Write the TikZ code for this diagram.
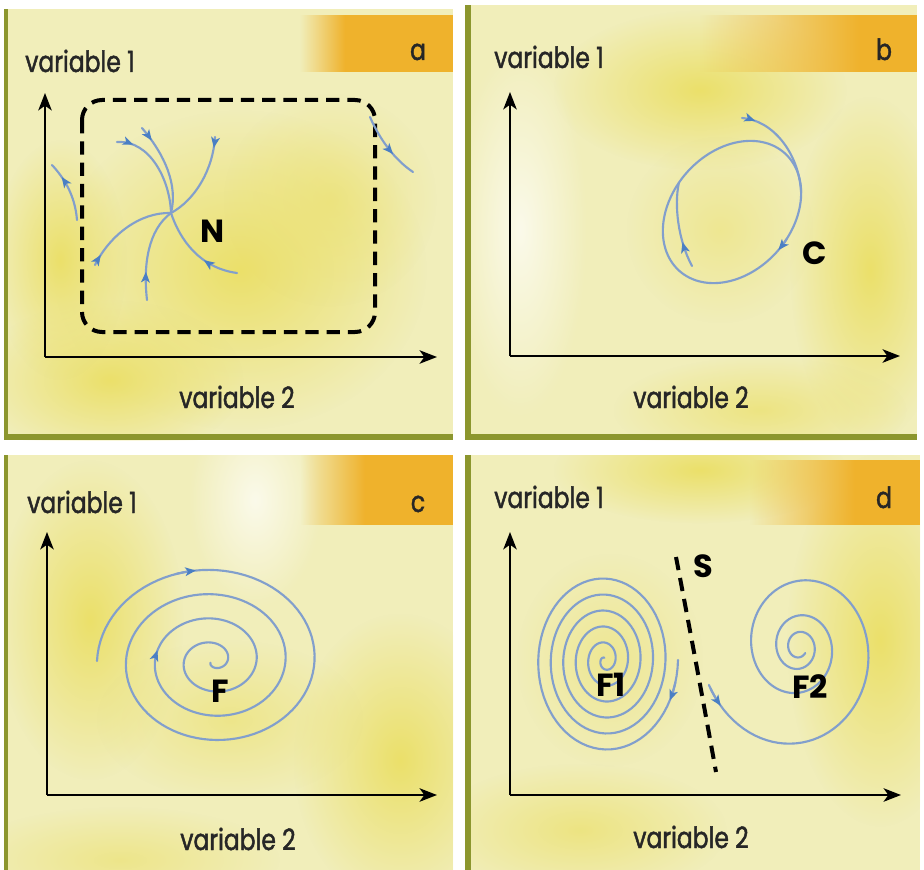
\documentclass[tikz,border=0pt]{standalone}
\usepackage{fontspec}
\setmainfont{Poppins}
\newfontfamily\varfont{Poppins}[FakeStretch=0.8, FakeBold=1.5]
\newfontfamily\labfont{Poppins}
\usetikzlibrary{arrows.meta,decorations.markings,fadings}
\definecolor{paper}{HTML}{F1EEBA}
\definecolor{yel}{HTML}{EBE06A}
\definecolor{org}{HTML}{EFB22C}
\definecolor{olive}{HTML}{8C962E}
\definecolor{trajc}{HTML}{829FCC}
\definecolor{tipc}{HTML}{4A7FC4}
\tikzfading[name=softblob, inner color=transparent!0, outer color=transparent!100]
\tikzfading[name=fadeR, left color=transparent!100, right color=transparent!0]
\begin{document}
\begin{tikzpicture}[x=0.75pt,y=-0.75pt,
  declare function={
    rF(\t)=116-0.0805556*(\t-180);
    rA(\t)=73-0.0347222*\t;
    fB(\t)=exp(-0.00206*(\t-270));
    eX(\t)=732+79*cos(\t)*0.6691-60*sin(\t)*0.7431;
    eY(\t)=212-(79*cos(\t)*0.7431+60*sin(\t)*0.6691);
  },
  traj/.style={draw=trajc, line width=1.6pt, line cap=round},
  tipped/.style={traj, -{Stealth[length=8pt,width=6.5pt,inset=2pt,color=tipc]}},
  midarrow/.style={postaction={decorate}, decoration={markings,
      mark=at position #1 with {\arrow{Stealth[length=8pt,width=6.5pt,inset=2pt,color=tipc]}}}},
  axis/.style={line width=2pt, -{Stealth[length=13pt,width=10pt,inset=3.5pt]}},
  sepline/.style={line width=3pt, dash pattern=on 10pt off 6pt},
  varlab/.style={font=\varfont\fontsize{22}{22}\selectfont, text=black!85, inner sep=0pt},
  boldlab/.style={font=\labfont\bfseries\fontsize{24}{24}\selectfont, inner sep=0pt},
  blob/.style={fill=yel, path fading=softblob},
  glow/.style={fill=white, path fading=softblob, opacity=0.7},
]
\useasboundingbox (0,0) rectangle (924,870);
\fill[white] (0,0) rectangle (924,870);

% ---------- panel backgrounds ----------
\fill[paper] (5,9) rectangle (453,440);
\fill[paper] (465,5) rectangle (917,440);
\fill[paper] (5,455) rectangle (453,870);
\fill[paper] (465,455) rectangle (920,870);

\begin{scope}
\clip (5,9) rectangle (453,440);
\fill[blob] (240,270) ellipse [x radius=140pt, y radius=120pt];
\fill[blob] (110,380) ellipse [x radius=100pt, y radius=60pt];
\fill[blob] (60,260) ellipse [x radius=50pt, y radius=90pt];
\fill[blob, opacity=0.6] (330,200) ellipse [x radius=80pt, y radius=80pt];
\fill[org, path fading=fadeR] (300,15) rectangle (345,72);
\fill[org] (345,15) rectangle (453,72);
\end{scope}

\begin{scope}
\clip (465,5) rectangle (917,440);
\fill[blob] (700,90) ellipse [x radius=110pt, y radius=60pt];
\fill[blob] (870,270) ellipse [x radius=60pt, y radius=130pt];
\fill[blob, opacity=0.7] (760,410) ellipse [x radius=110pt, y radius=40pt];
\fill[blob, opacity=0.5] (720,230) ellipse [x radius=70pt, y radius=70pt];
\fill[glow] (520,230) ellipse [x radius=50pt, y radius=140pt];
\fill[org, path fading=fadeR] (700,15) rectangle (860,72);
\fill[org] (860,15) rectangle (917,72);
\end{scope}

\begin{scope}
\clip (5,455) rectangle (453,870);
\fill[blob] (90,620) ellipse [x radius=70pt, y radius=120pt];
\fill[blob] (400,760) ellipse [x radius=80pt, y radius=110pt];
\fill[blob, opacity=0.6] (230,720) ellipse [x radius=100pt, y radius=60pt];
\fill[blob, opacity=0.6] (120,860) ellipse [x radius=120pt, y radius=40pt];
\fill[glow] (255,500) ellipse [x radius=50pt, y radius=80pt];
\fill[org, path fading=fadeR] (300,455) rectangle (365,525);
\fill[org] (365,455) rectangle (453,525);
\end{scope}

\begin{scope}
\clip (465,455) rectangle (920,870);
\fill[blob] (880,640) ellipse [x radius=70pt, y radius=140pt];
\fill[blob] (700,470) ellipse [x radius=110pt, y radius=40pt];
\fill[blob, opacity=0.7] (580,830) ellipse [x radius=110pt, y radius=50pt];
\fill[blob, opacity=0.5] (610,660) ellipse [x radius=70pt, y radius=80pt];
\fill[org, path fading=fadeR] (750,460) rectangle (855,525);
\fill[org] (855,460) rectangle (920,525);
\end{scope}

% olive edges
\fill[olive] (4,9) rectangle (8,440);
\fill[olive] (5,434) rectangle (453,440);
\fill[olive] (465,5) rectangle (471,440);
\fill[olive] (465,434) rectangle (917,440);
\fill[olive] (4,455) rectangle (8,870);
\fill[olive] (465,455) rectangle (471,870);

% ================= panel a =================
\coordinate (Oa) at (45,357);
\coordinate (Ya) at (45,93);
\coordinate (Xa) at (437,357);
\draw[axis] (Oa) -- (Ya);
\draw[axis] (Oa) -- (Xa);
\node[varlab, anchor=base west] (a1) at (25,72) {variable 1};
\node[varlab, anchor=base] (a2) at (237,408) {variable 2};
\node[varlab, anchor=base] (atag) at (418,60) {a};
\draw[sepline, rounded corners=15pt] (82,100) rectangle (375,332);
\coordinate (N0) at (171,213);
\draw[traj, midarrow=0.17] (117,142) .. controls (150,140) and (170,180) .. (N0);
\draw[traj, midarrow=0.17] (142,128) .. controls (165,155) and (178,185) .. (N0);
\draw[traj, midarrow=0.12] (215,137) .. controls (213,170) and (195,200) .. (N0);
\draw[traj, midarrow=0.12] (95,265) .. controls (110,235) and (140,212) .. (N0);
\draw[traj, midarrow=0.3] (147,300) .. controls (143,265) and (148,230) .. (N0);
\draw[traj, midarrow=0.38] (237,273) .. controls (200,268) and (180,240) .. (N0);
\draw[traj, midarrow=0.75] (77,220) .. controls (75,195) and (64,178) .. (52,165);
\draw[traj, midarrow=0.62] (370,117) .. controls (380,140) and (395,160) .. (413,172);
\node[boldlab] (N) at (213,231) {N};

% ================= panel b =================
\coordinate (Ob) at (510,356);
\coordinate (Yb) at (510,92);
\coordinate (Xb) at (900,356);
\draw[axis] (Ob) -- (Yb);
\draw[axis] (Ob) -- (Xb);
\node[varlab, anchor=base west] (b1) at (494,68) {variable 1};
\node[varlab, anchor=base] (b2) at (691,408) {variable 2};
\node[varlab, anchor=base] (btag) at (884,60) {b};
\draw[traj] plot[domain=0:360, samples=121, variable=\t] ({eX(\t)},{eY(\t)}) -- cycle;
\coordinate (Eb) at ({eX(-40)},{eY(-40)});
\coordinate (Ib) at ({eX(100)},{eY(100)});
\draw[traj, midarrow=0.13] (742,118) .. controls (772,120) and (799,152) .. (Eb);
\draw[traj, midarrow=0.3] (692,266) .. controls (678,240) and (674,205) .. (Ib);
\draw[tipped] plot[domain=0:10, samples=6, variable=\s] ({eX(-78-\s)},{eY(-78-\s)});
\node[boldlab] (C) at (815,253) {C};

% ================= panel c =================
\coordinate (Oc) at (47,795);
\coordinate (Yc) at (47,532);
\coordinate (Xc) at (437,795);
\draw[axis] (Oc) -- (Yc);
\draw[axis] (Oc) -- (Xc);
\node[varlab, anchor=base west] (c1) at (27,513) {variable 1};
\node[varlab, anchor=base] (c2) at (238,850) {variable 2};
\node[varlab, anchor=base] (ctag) at (418,512) {c};
\draw[traj] plot[domain=180:1580, samples=351, variable=\t]
  ({213+rF(\t)*cos(\t)},{661+0.837*rF(\t)*sin(\t)});
\draw[tipped] plot[domain=250:261, samples=6, variable=\t]
  ({213+rF(\t)*cos(\t)},{661+0.837*rF(\t)*sin(\t)});
\draw[tipped] plot[domain=902:913, samples=6, variable=\t]
  ({213+rF(\t)*cos(\t)},{661+0.837*rF(\t)*sin(\t)});
\node[boldlab] (F) at (220,691) {F};

% ================= panel d =================
\coordinate (Od) at (510,795);
\coordinate (Yd) at (510,532);
\coordinate (Xd) at (901,795);
\draw[axis] (Od) -- (Yd);
\draw[axis] (Od) -- (Xd);
\node[varlab, anchor=base west] (d1) at (494,508) {variable 1};
\node[varlab, anchor=base] (d2) at (691,848) {variable 2};
\node[varlab, anchor=base] (dtag) at (884,508) {d};
\draw[traj] plot[domain=0:2050, samples=411, variable=\t]
  ({605+rA(\t)*cos(\t)},{660+1.28*rA(\t)*sin(\t)});
\draw[tipped] plot[domain=14:26, samples=6, variable=\t]
  ({605+rA(\t)*cos(\t)},{660+1.28*rA(\t)*sin(\t)});
\draw[traj] plot[domain=200:1400, samples=301, variable=\t]
  ({799+83*fB(\t)*cos(\t)},{647-96*fB(\t)*sin(\t)});
\draw[tipped] plot[domain=202:213, samples=6, variable=\t]
  ({799+83*fB(\t)*cos(\t)},{647-96*fB(\t)*sin(\t)});
\coordinate (S0) at (676,557);
\coordinate (S1) at (716,772);
\draw[sepline] (S0) .. controls (690,630) and (703,700) .. (S1);
\node[boldlab] (S) at (703,566) {S};
\node[boldlab] (F1) at (611,685) {F1};
\node[boldlab] (F2) at (810,687) {F2};
\end{tikzpicture}
\end{document}
